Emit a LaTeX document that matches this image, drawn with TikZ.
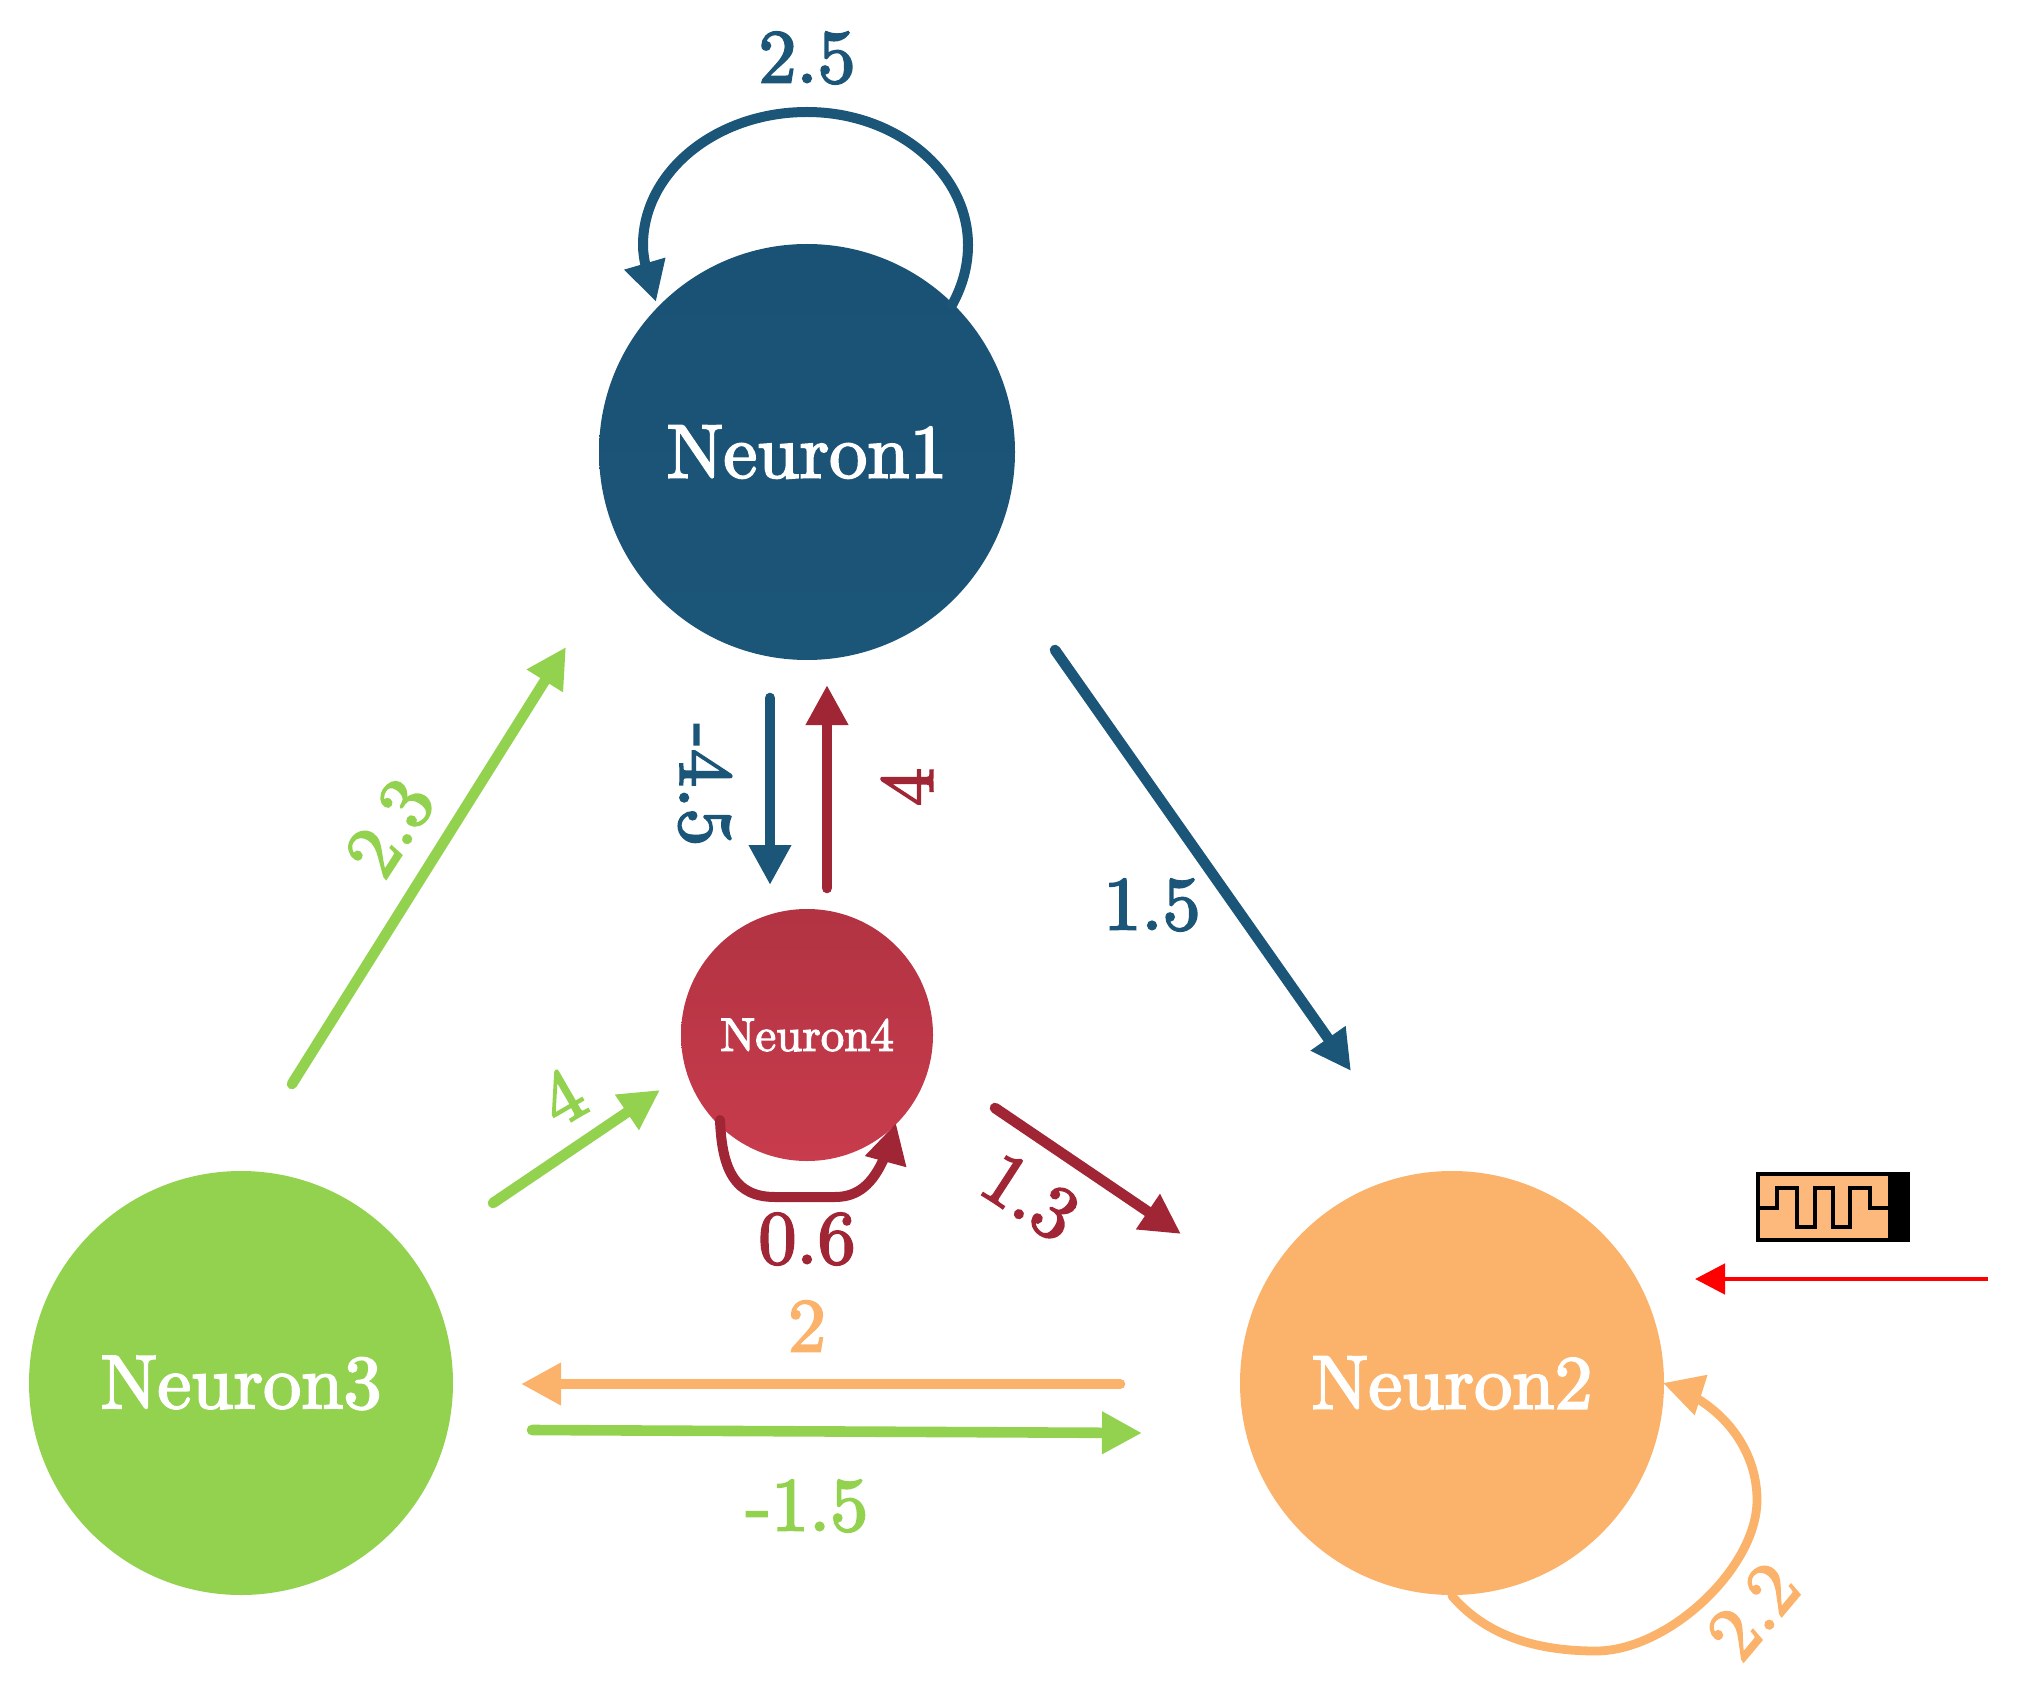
\documentclass[tikz,border=0pt]{standalone}
\usepackage{fontspec}
\newfontfamily\heavyfont[Extension=.otf,FakeBold=2.6]{lmroman10-regular}
\usetikzlibrary{arrows.meta,bending,calc,shapes.geometric}
\definecolor{cblue}{HTML}{1B5578}
\definecolor{cbluet}{HTML}{1A5275}
\definecolor{cred}{HTML}{A02535}
\definecolor{credt}{HTML}{B23342}
\definecolor{credb}{HTML}{C83C4D}
\definecolor{cgreen}{HTML}{93D24F}
\definecolor{corange}{HTML}{FBB26A}
\definecolor{cicon}{HTML}{FDB87C}
\tikzset{
  x=0.5pt,y=-0.5pt,
  neuron/.style={circle,draw=none,inner sep=0pt,text=white,font=\heavyfont\fontsize{38}{40}\selectfont},
  wire/.style={line width=5.3pt,line cap=round,-{Triangle[length=20pt,width=20pt]}},
  loopwire/.style={line width=5pt,line cap=round,-{Triangle[length=20pt,width=20pt,flex=0]}},
  num/.style={inner sep=0pt,font=\heavyfont\fontsize{38}{40}\selectfont},
}
\begin{document}
\begin{tikzpicture}
\useasboundingbox (0,0) rectangle (2018,1700);
\node[neuron,minimum size=208pt,shade,top color=cbluet,bottom color=cblue] (n1) at (807,452) {Neuron1};
\node[neuron,minimum size=212pt,fill=corange] (n2) at (1452,1383) {Neuron2};
\node[neuron,minimum size=212pt,fill=cgreen] (n3) at (241,1383) {Neuron3};
\node[neuron,minimum size=126pt,shade,top color=credt,bottom color=credb,font=\heavyfont\fontsize{23.5}{25}\selectfont] (n4) at (807,1035) {Neuron4};

% self loops
\draw[loopwire,cblue] ($(n1)+(145,-147)$) .. controls (963,285) and (968,265) .. (968,245) .. controls (968,172) and (896,112) .. (807,112) .. controls (716,112) and (643,172) .. (643,245) .. controls (643,262) and (649,278) .. ($(n1)+(-151,-150)$);
\draw[loopwire,cred] ($(n4)+(-87,85)$) .. controls (722,1170) and (735,1197) .. (775,1197) .. controls (795,1197) and (815,1197) .. (835,1197) .. controls (865,1197) and (882,1175) .. ($(n4)+(89,88)$);
\draw[loopwire,line width=4.4pt,corange] ($(n2)+(0,213)$) .. controls (1490,1640) and (1545,1651) .. (1596,1651) .. controls (1668,1651) and (1757,1568) .. (1757,1500) .. controls (1757,1450) and (1723,1402) .. ($(n2)+(211,0)$);

% connectors
\draw[wire,cgreen] ($(n3)+(51,-299)$) -- ($(n1)+(-241,195)$);
\draw[wire,cgreen] ($(n3)+(252,-180)$) -- ($(n4)+(-147,55)$);
\draw[wire,cgreen] ($(n3)+(291,47)$) -- ($(n2)+(-310,50)$);
\draw[wire,corange] ($(n2)+(-332,1)$) -- ($(n3)+(280,1)$);
\draw[wire,cblue] ($(n1)+(248,198)$) -- ($(n2)+(-101,-312)$);
\draw[wire,cblue] ($(n1)+(-37,246)$) -- ($(n4)+(-37,-150)$);
\draw[wire,cred] ($(n4)+(20,-147)$) -- ($(n1)+(20,233)$);
\draw[wire,cred] ($(n4)+(188,73)$) -- ($(n2)+(-271,-149)$);

% stimulus
\coordinate (stimstart) at (1988,1279);
\draw[line width=2.4pt,red,-{Triangle[length=15pt,width=15pt]}] (stimstart) -- ($(n2)+(243,-104)$);

% pulse icon
\node[draw=black,line width=2pt,fill=cicon,inner sep=0pt,minimum width=75pt,minimum height=33pt] (icon) at (1832.5,1206.5) {};
\fill[black] (1888,1174) rectangle (1908,1240);
\draw[line width=2pt,black] (1760,1208) -- (1777,1208) -- (1777,1188) -- (1797,1188) -- (1797,1227) -- (1815,1227) -- (1815,1188) -- (1833,1188) -- (1833,1227) -- (1850,1227) -- (1850,1188) -- (1870,1188) -- (1870,1208) -- (1888,1208);

% labels
\node[num,text=cblue] (l25) at (807,58) {2.5};
\node[num,text=cblue] (l15) at (1152,905) {1.5};
\node[num,text=cblue,rotate=-90] (l45) at (705,785) {-4.5};
\node[num,text=cred,rotate=90] (l4r) at (907,787) {4};
\node[num,text=cgreen,rotate=57] (l23) at (390,828) {2.3};
\node[num,text=cgreen,rotate=30] (l4g) at (562,1097) {4};
\node[num,text=cred,rotate=-33] (l13) at (1030,1197) {1.3};
\node[num,text=cred] (l06) at (807,1239) {0.6};
\node[num,text=corange] (l2) at (807,1326) {2};
\node[num,text=cgreen] (l15g) at (807,1506) {-1.5};
\node[num,text=corange,rotate=50] (l22) at (1753,1611) {2.2};
\end{tikzpicture}
\end{document}
